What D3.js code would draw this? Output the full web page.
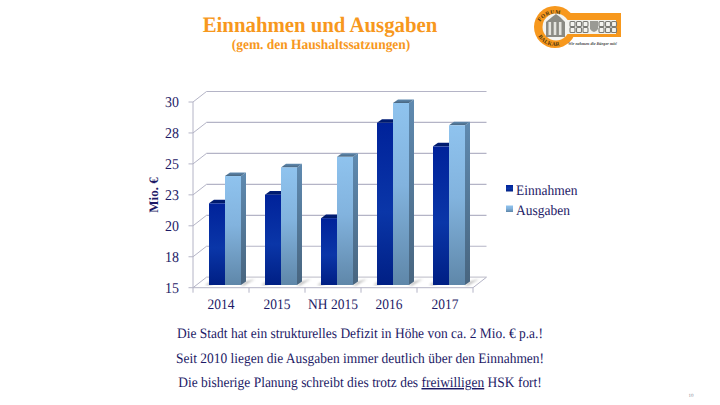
<!DOCTYPE html>
<html><head><meta charset="utf-8">
<script src="https://cdnjs.cloudflare.com/ajax/libs/d3/7.8.5/d3.min.js"></script>
<style>html,body{margin:0;padding:0;background:#fff}svg{display:block}text{font-family:"Liberation Serif",serif;text-rendering:geometricPrecision}</style>
</head><body><svg id="c" width="720" height="405"></svg>
<script>
const categories = ["2014","2015","NH 2015","2016","2017"];
const einnahmen = [21.6,22.3,20.4,28.1,26.2];
const ausgaben = [23.8,24.5,25.35,29.7,27.9];
const tickValues = [15,17.5,20,22.5,25,27.5,30];
const tickLabels = ["15","18","20","23","25","28","30"];
const seriesNames = ["Einnahmen","Ausgaben"];
const notes = ["Die Stadt hat ein strukturelles Defizit in Höhe von ca. 2 Mio. € p.a.!","Seit 2010 liegen die Ausgaben immer deutlich über den Einnahmen!"];

const svg = d3.select("#c");
const navy = "#1d1a66", orange = "#f7981d";
const x = d3.scaleBand().domain(categories).range([193,473]);
const y = d3.scaleLinear().domain([15,30]).range([287.7,102]);
const dx = 13.5, dy = -10.5;
const bx = 4, by = -2.7, bdx = 5, bdy = -3.6;
const inner = d3.scaleBand().domain([0,1]).range([0,x.bandwidth()]).paddingInner(0).paddingOuter(0.75);

const defs = svg.append("defs");
function grad(id, stops){
  const g = defs.append("linearGradient").attr("id",id).attr("x1",0).attr("y1",0).attr("x2",0).attr("y2",1);
  stops.forEach(s=>g.append("stop").attr("offset",s[0]).attr("stop-color",s[1]));
}
grad("g0",[[0,"#00229a"],[0.55,"#0a36a8"],[1,"#001f84"]]);
grad("g1",[[0,"#8fc3ee"],[0.45,"#82b3de"],[1,"#5f87a9"]]);
grad("s0",[[0,"#001c78"],[1,"#001a66"]]);
grad("s1",[[0,"#5f8ab0"],[1,"#48657f"]]);
const fb = defs.append("filter").attr("id","blur");
fb.append("feGaussianBlur").attr("stdDeviation",1);

// narrowed text helper: anchored at (px,py), squeezed horizontally
function label(px,py,size,sx,anchor,fill,bold){
  const t = svg.append("text").attr("transform",`translate(${px},${py}) scale(${sx},1)`).attr("text-anchor",anchor).attr("font-size",size).attr("fill",fill);
  if(bold) t.attr("font-weight","bold");
  return t;
}

// title
label(320,32,22,0.945,"middle",orange,true).text("Einnahmen und Ausgaben");
label(321,49,14.2,0.945,"middle",orange,true).text("(gem. den Haushaltssatzungen)");

// walls
const grid = "#b4b4c6";
const g = svg.append("g");
tickValues.forEach((v,i)=>{
  const yy = y(v);
  g.append("line").attr("x1",188.5).attr("x2",193).attr("y1",yy).attr("y2",yy).attr("stroke",grid);
  g.append("line").attr("x1",193).attr("y1",yy).attr("x2",193+dx).attr("y2",yy+dy).attr("stroke",grid);
  g.append("line").attr("x1",193+dx).attr("y1",yy+dy).attr("x2",473+dx).attr("y2",yy+dy).attr("stroke",i? "#b4b4c6":"#c8c8d2").attr("stroke-width",1.2);
  label(172,yy+5,15,0.93,"middle",navy).text(tickLabels[i]);
});
g.append("line").attr("x1",193).attr("x2",193).attr("y1",y(30)).attr("y2",y(15)).attr("stroke",grid);
g.append("line").attr("x1",193).attr("x2",473).attr("y1",y(15)).attr("y2",y(15)).attr("stroke",grid);
g.append("line").attr("x1",473).attr("y1",y(15)).attr("x2",473+dx).attr("y2",y(15)+dy).attr("stroke",grid);
d3.range(6).forEach(i=>{
  const xx = 193+i*x.step();
  g.append("line").attr("x1",xx).attr("x2",xx).attr("y1",y(15)).attr("y2",y(15)+5).attr("stroke",grid);
});

// bars
categories.forEach((c,i)=>{
  const cg = svg.append("g");
  const bw = inner.bandwidth();
  const x0 = x(c)+inner(0)+bx, base = y(15)+by;
  cg.append("path").attr("d",`M${x0+2*bw},${base+0.5}L${x0+2*bw+bdx},${base+bdy}L${x0+2*bw+bdx+9},${base-6}L${x0+2*bw+3},${base+0.5}Z`).attr("fill","#8c8c8c").attr("opacity",0.6).attr("filter","url(#blur)");
  cg.append("path").attr("d",`M${x0-4},${base+0.5}L${x0},${base-3}L${x0+4},${base+0.5}Z`).attr("fill","#8c8c8c").attr("opacity",0.45).attr("filter","url(#blur)");
  [einnahmen[i],ausgaben[i]].forEach((v,k)=>{
    const bxx = x(c)+inner(k)+bx, top = y(v)+by;
    if(k===1) cg.append("path").attr("d",`M${bxx+bw},${top}L${bxx+bw+bdx},${top+bdy}L${bxx+bw+bdx},${base+bdy}L${bxx+bw},${base}Z`).attr("fill",`url(#s${k})`);
    cg.append("path").attr("d",`M${bxx},${top}L${bxx+bdx},${top+bdy}L${bxx+bw+bdx},${top+bdy}L${bxx+bw},${top}Z`).attr("fill",`url(#s${k})`);
    cg.append("rect").attr("x",bxx).attr("y",top).attr("width",bw).attr("height",base-top).attr("fill",`url(#g${k})`);
  });
  label(x(c)+x.bandwidth()/2,309,14.5,0.93,"middle",navy).text(c);
});

svg.append("text").attr("transform","translate(158,195) rotate(-90)").attr("text-anchor","middle").attr("font-size",13).attr("font-weight","bold").attr("fill",navy).text("Mio. €");

// legend
seriesNames.forEach((n,i)=>{
  const ly = 185+i*20.5;
  svg.append("rect").attr("x",506).attr("y",ly).attr("width",7).attr("height",6.5).attr("fill",`url(#g${i})`);
  label(516,ly+9.5,14.5,0.93,"start",navy).text(n);
});

// notes
notes.forEach((t,i)=>label(360,338+i*24.5,14.5,0.928,"middle",navy).text(t));
const last = label(360,387,14.5,0.928,"middle",navy);
last.append("tspan").text("Die bisherige Planung schreibt dies trotz des ");
last.append("tspan").attr("text-decoration","underline").text("freiwilligen");
last.append("tspan").text(" HSK fort!");

svg.append("text").attr("x",691).attr("y",397).attr("text-anchor","middle").attr("font-size",5).attr("fill","#8a8a9a").text("10");

// logo
const L = svg.append("g");
L.append("path").attr("fill",orange).attr("fill-rule","evenodd").attr("d","M570,13 L621,13 L621,37 L570,37 Z M569,20 L616,20 L616,34 L569,34 Z");
L.append("circle").attr("cx",555).attr("cy",27).attr("r",21).attr("fill",orange);
L.append("circle").attr("cx",556).attr("cy",27).attr("r",13.5).attr("fill","#f4f4f0");
L.append("path").attr("d","M546,37 L546,22 L552,17 L556,14 L560,17 L565,22 L565,37 Z").attr("fill","#8b8b84");
d3.range(3).forEach(i=>L.append("rect").attr("x",548.5+i*5.2).attr("y",22).attr("width",2.6).attr("height",13).attr("fill","#e4e4de"));
L.append("rect").attr("x",567).attr("y",20).attr("width",49).attr("height",14).attr("fill","#f3f3ee");
[571,577.5,584,600,606.5,612.5].forEach(wx=>{
  [21.5,27.5].forEach(wy=>L.append("rect").attr("x",wx-1).attr("y",wy).attr("width",5).attr("height",5).attr("rx",1).attr("fill","none").attr("stroke","#7a7a74").attr("stroke-width",1.1));
});
L.append("path").attr("d","M590,21 L598,21 L598,29 Q594,35 590,29 Z").attr("fill","#9a9a94");
defs.append("path").attr("id","arcTop").attr("d","M538,27 A17.5,17.5 0 0 1 572,27");
defs.append("path").attr("id","arcBot").attr("d","M536,27 A19,19 0 0 0 574,27");
svg.append("text").attr("font-size",5.5).attr("font-weight","bold").attr("fill","#4a3410").attr("letter-spacing",0.5).append("textPath").attr("href","#arcTop").attr("startOffset","12%").text("FORUM");
svg.append("text").attr("font-size",5.5).attr("font-weight","bold").attr("fill","#4a3410").attr("letter-spacing",0.3).append("textPath").attr("href","#arcBot").attr("startOffset","16%").text("BALKAR");
svg.append("text").attr("x",568).attr("y",44.5).attr("font-size",4.2).attr("font-style","italic").attr("font-weight","bold").attr("fill","#444").text("Wir nehmen die Bürger mit!");
</script></body></html>
